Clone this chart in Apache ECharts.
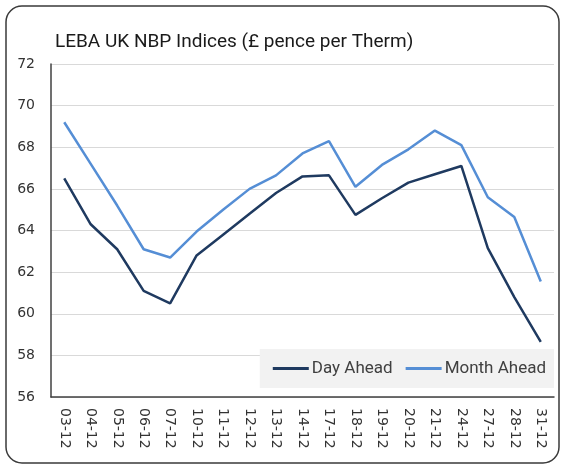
<!DOCTYPE html>
<html>
<head>
<meta charset="utf-8">
<script src="https://cdn.jsdelivr.net/npm/echarts@6/dist/echarts.min.js"></script>
<style>
  html, body { margin: 0; padding: 0; background: #fff; }
  #chart { width: 563px; height: 465px; }
</style>
</head>
<body>
<div id="chart"></div>
<script>
// trading days in December
var days = ['03-12', '04-12', '05-12', '06-12', '07-12', '10-12', '11-12', '12-12', '13-12', '14-12',
  '17-12', '18-12', '19-12', '20-12', '21-12', '24-12', '27-12', '28-12', '31-12'];

var dayAhead = [66.5, 64.3, 63.1, 61.1, 60.5, 62.8, 63.8, 64.8, 65.8, 66.6,
  66.65, 64.75, 65.55, 66.3, 66.7, 67.1, 63.15, 60.8, 58.65];

var monthAhead = [69.2, 67.2, 65.2, 63.1, 62.7, 63.95, 65.0, 66.0, 66.65, 67.7,
  68.3, 66.1, 67.15, 67.9, 68.8, 68.1, 65.6, 64.65, 61.55];

var yTicks = [56, 72, 2]; // min, max, step

var chart = echarts.init(document.getElementById('chart'));

var option = {
  animation: false,
  backgroundColor: '#fff',
  title: {
    text: 'LEBA UK NBP Indices (£ pence per Therm)',
    left: 50,
    top: 28,
    textStyle: {
      fontFamily: 'Roboto',
      fontWeight: 'normal',
      fontSize: 19,
      color: '#1a1a1a'
    }
  },
  graphic: [{
    type: 'rect',
    shape: { x: 6, y: 6, width: 553, height: 457, r: 16 },
    style: { fill: 'none', stroke: '#3a3a3a', lineWidth: 1.5 },
    silent: true
  }],
  legend: {
    data: ['Day Ahead', 'Month Ahead'],
    right: 9,
    bottom: 77,
    backgroundColor: '#f2f2f2',
    padding: [11, 8, 11, 13],
    itemGap: 13,
    itemWidth: 36,
    itemHeight: 3,
    icon: 'rect',
    textStyle: {
      fontFamily: 'Roboto',
      fontSize: 17,
      color: '#404040',
      padding: [0, 0, 0, -2]
    }
  },
  grid: {
    left: 51,
    right: 9,
    top: 64,
    bottom: 68,
    containLabel: false
  },
  xAxis: {
    type: 'category',
    data: days,
    boundaryGap: true,
    axisLine: { lineStyle: { color: '#404040', width: 1.5 } },
    axisTick: { show: false },
    axisLabel: {
      rotate: -90,
      margin: 11,
      fontFamily: 'DejaVu Sans',
      fontSize: 14,
      color: '#333'
    }
  },
  yAxis: {
    type: 'value',
    min: yTicks[0],
    max: yTicks[1],
    interval: yTicks[2],
    axisLine: { show: true, lineStyle: { color: '#404040', width: 1.5 } },
    axisTick: { show: false },
    splitLine: { lineStyle: { color: '#d9d9d9', width: 1 } },
    axisLabel: {
      margin: 16,
      fontFamily: 'DejaVu Sans',
      fontSize: 14,
      color: '#333'
    }
  },
  series: [{
    name: 'Day Ahead',
    type: 'line',
    data: dayAhead,
    showSymbol: false,
    symbol: 'none',
    lineStyle: { color: '#1f3a60', width: 2.5 },
    itemStyle: { color: '#1f3a60' }
  }, {
    name: 'Month Ahead',
    type: 'line',
    data: monthAhead,
    showSymbol: false,
    symbol: 'none',
    lineStyle: { color: '#558ed5', width: 2.5 },
    itemStyle: { color: '#558ed5' }
  }]
};

chart.setOption(option);
</script>
</body>
</html>
